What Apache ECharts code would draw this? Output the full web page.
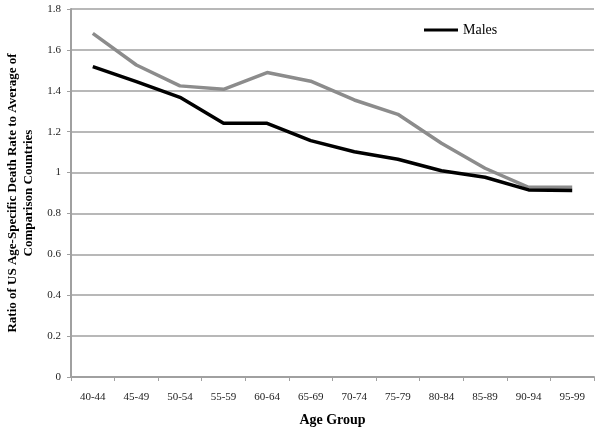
<!DOCTYPE html>
<html>
<head>
<meta charset="utf-8">
<script src="https://cdn.jsdelivr.net/npm/echarts@6/dist/echarts.min.js"></script>
<style>
  html, body { margin: 0; padding: 0; background: #fff; }
  #main { width: 600px; height: 431px; }
</style>
</head>
<body>
<div id="main"></div>
<script type="text/javascript">
// age groups on the x axis
var ageGroups = ['40-44', '45-49', '50-54', '55-59', '60-64', '65-69',
                 '70-74', '75-79', '80-84', '85-89', '90-94', '95-99'];
// ratio values
var males = [1.518, 1.445, 1.368, 1.241, 1.241, 1.156, 1.102, 1.065, 1.009, 0.977, 0.915, 0.912];
var other = [1.681, 1.526, 1.424, 1.407, 1.489, 1.447, 1.355, 1.285, 1.143, 1.021, 0.928, 0.928];

var font = 'Liberation Serif';
var myChart = echarts.init(document.getElementById('main'));

var option = {
    animation: false,
    backgroundColor: '#fff',
    textStyle: { fontFamily: font },
    grid: { left: 71, right: 6, top: 9, bottom: 54, outerBoundsMode: 'none', containLabel: false },
    legend: {
        data: ['Males'],
        left: 419, top: 18,
        itemWidth: 34, itemHeight: 3, itemGap: 4,
        icon: 'rect',
        textStyle: { fontFamily: font, fontSize: 14, color: '#000' }
    },
    xAxis: {
        type: 'category',
        data: ageGroups,
        name: 'Age Group',
        nameLocation: 'middle',
        nameGap: 36,
        nameTextStyle: { fontFamily: font, fontSize: 14, fontWeight: 'bold', color: '#000' },
        axisLine: { lineStyle: { color: '#a0a0a0', width: 2 } },
        axisTick: { show: true, length: 4, lineStyle: { color: '#a0a0a0' } },
        axisLabel: { fontFamily: font, fontSize: 11, color: '#222', margin: 15 }
    },
    yAxis: {
        type: 'value',
        min: 0, max: 1.8, interval: 0.2,
        name: 'Ratio of US Age-Specific Death Rate to Average of\nComparison Countries',
        nameLocation: 'middle',
        nameGap: 34,
        nameTextStyle: { fontFamily: font, fontSize: 13, fontWeight: 'bold', color: '#000', lineHeight: 16 },
        axisLine: { show: true, lineStyle: { color: '#a0a0a0', width: 2 } },
        axisTick: { show: true, length: 4, lineStyle: { color: '#a0a0a0' } },
        axisLabel: {
            fontFamily: font, fontSize: 11, color: '#222', margin: 10,
            formatter: function (v) { return String(Math.round(v * 10) / 10); }
        },
        splitLine: { lineStyle: { color: '#a0a0a0', width: 1.5 } }
    },
    series: [
        {
            name: '',
            type: 'line',
            data: other,
            symbol: 'none',
            lineStyle: { color: '#8c8c8c', width: 3.5 },
            itemStyle: { color: '#8c8c8c' }
        },
        {
            name: 'Males',
            type: 'line',
            data: males,
            symbol: 'none',
            lineStyle: { color: '#000', width: 3.5 },
            itemStyle: { color: '#000' }
        }
    ]
};

myChart.setOption(option);
</script>
</body>
</html>
